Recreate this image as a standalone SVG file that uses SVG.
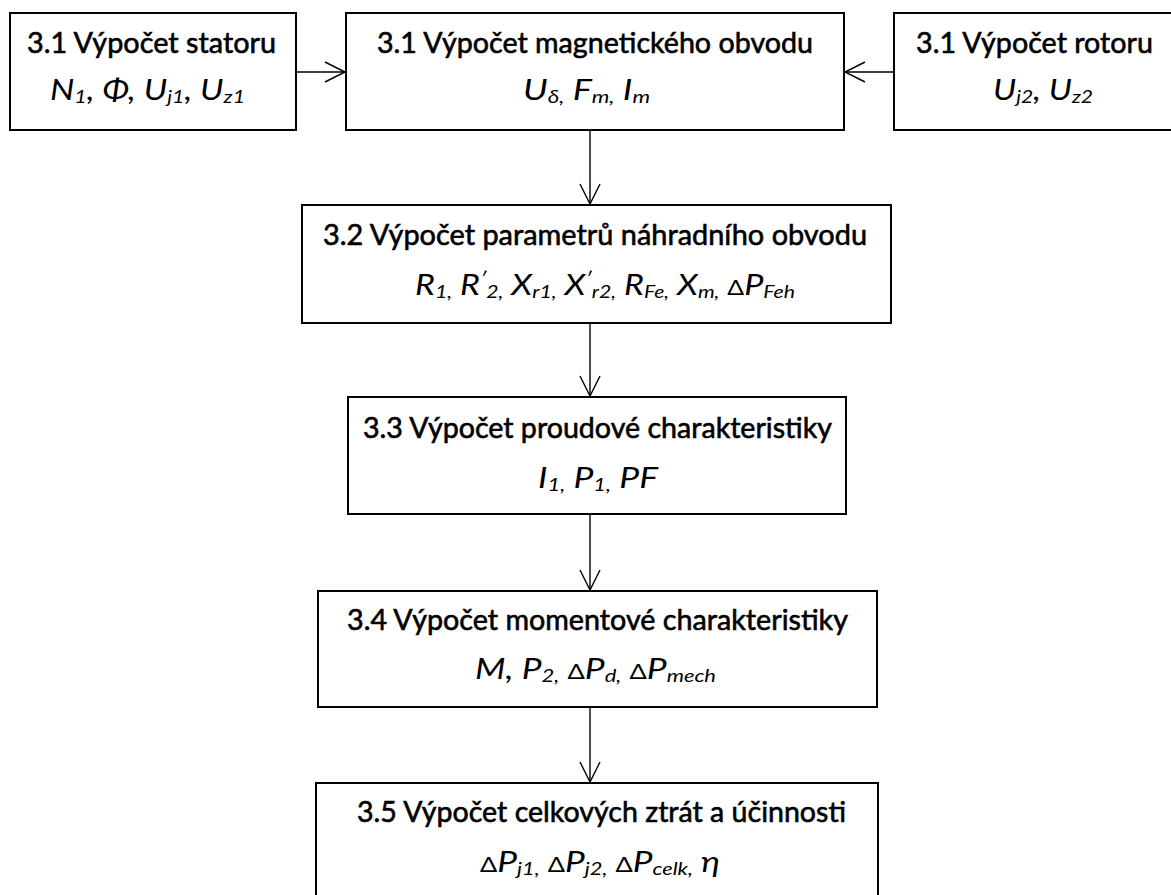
<svg xmlns="http://www.w3.org/2000/svg" width="1171" height="895" viewBox="0 0 1171 895">
<style>
.box{fill:#fff;stroke:#000;stroke-width:2}
.t{font-family:Lato,"Liberation Sans",sans-serif;font-size:29px;fill:#000;stroke:#000;stroke-width:0.6}
.s{font-family:Lato,"Liberation Sans",sans-serif;font-style:italic;font-size:29px;fill:#000}
.sub{font-size:18px}
.d{font-style:normal;font-size:21px}
.c line{stroke:#000;stroke-width:1.4}
</style>
<defs>
<marker id="ah" markerUnits="userSpaceOnUse" markerWidth="24" markerHeight="24" viewBox="-22 -12 24 24" refX="0" refY="0" orient="auto">
<path d="M-20,-10 L0,0 L-20,10" fill="none" stroke="#000" stroke-width="1.4"/>
</marker>
</defs>
<rect width="1171" height="895" fill="#fff"/>
<g class="c" id="connectors">
<line x1="296" y1="72" x2="345" y2="72" marker-end="url(#ah)"/>
<line x1="894" y1="72" x2="845" y2="72" marker-end="url(#ah)"/>
<line x1="590" y1="130" x2="590" y2="204" marker-end="url(#ah)"/>
<line x1="590" y1="323" x2="590" y2="396" marker-end="url(#ah)"/>
<line x1="590" y1="514" x2="590" y2="590" marker-end="url(#ah)"/>
<line x1="590" y1="707" x2="590" y2="782" marker-end="url(#ah)"/>
</g>
<g id="stator">
<rect class="box" x="10" y="13" width="286" height="117"/>
<text class="t" x="27" y="53" textLength="249" lengthAdjust="spacingAndGlyphs">3.1 Výpočet statoru</text>
<text class="s" x="50" y="100" textLength="195" lengthAdjust="spacingAndGlyphs">N<tspan class="sub" dy="3">1</tspan><tspan dy="-3">, Φ, U</tspan><tspan class="sub" dy="3">j1</tspan><tspan dy="-3">, U</tspan><tspan class="sub" dy="3">z1</tspan></text>
</g>
<g id="magnetic">
<rect class="box" x="346" y="13" width="498" height="117"/>
<text class="t" x="377" y="53" textLength="436" lengthAdjust="spacingAndGlyphs">3.1 Výpočet magnetického obvodu</text>
<text class="s" x="523" y="100" textLength="127" lengthAdjust="spacingAndGlyphs">U<tspan class="sub" dy="3">δ,</tspan><tspan dy="-3"> F</tspan><tspan class="sub" dy="3">m,</tspan><tspan dy="-3"> I</tspan><tspan class="sub" dy="3">m</tspan></text>
</g>
<g id="rotor">
<rect class="box" x="894" y="13" width="282" height="117"/>
<text class="t" x="916" y="53" textLength="237" lengthAdjust="spacingAndGlyphs">3.1 Výpočet rotoru</text>
<text class="s" x="993" y="100" textLength="100" lengthAdjust="spacingAndGlyphs">U<tspan class="sub" dy="3">j2</tspan><tspan dy="-3">, U</tspan><tspan class="sub" dy="3">z2</tspan></text>
</g>
<g id="n32">
<rect class="box" x="302" y="205" width="589" height="118"/>
<text class="t" x="323" y="245" textLength="544" lengthAdjust="spacingAndGlyphs">3.2 Výpočet parametrů náhradního obvodu</text>
<text class="s" x="415" y="295" textLength="380" lengthAdjust="spacingAndGlyphs">R<tspan class="sub" dy="3">1,</tspan><tspan dy="-3"> R</tspan><tspan class="sub" dy="-10">′</tspan><tspan class="sub" dy="13">2,</tspan><tspan dy="-3"> X</tspan><tspan class="sub" dy="3">r1,</tspan><tspan dy="-3"> X</tspan><tspan class="sub" dy="-10">′</tspan><tspan class="sub" dy="13">r2,</tspan><tspan dy="-3"> R</tspan><tspan class="sub" dy="3">Fe,</tspan><tspan dy="-3"> X</tspan><tspan class="sub" dy="3">m,</tspan><tspan dy="-3"> </tspan><tspan class="d">Δ</tspan><tspan>P</tspan><tspan class="sub" dy="3">Feh</tspan></text>
</g>
<g id="n33">
<rect class="box" x="348" y="397" width="498" height="117"/>
<text class="t" x="363" y="438" textLength="469" lengthAdjust="spacingAndGlyphs">3.3 Výpočet proudové charakteristiky</text>
<text class="s" x="538" y="488" textLength="120" lengthAdjust="spacingAndGlyphs">I<tspan class="sub" dy="3">1,</tspan><tspan dy="-3"> P</tspan><tspan class="sub" dy="3">1,</tspan><tspan dy="-3"> PF</tspan></text>
</g>
<g id="n34">
<rect class="box" x="318" y="591" width="559" height="116"/>
<text class="t" x="347" y="630" textLength="501" lengthAdjust="spacingAndGlyphs">3.4 Výpočet momentové charakteristiky</text>
<text class="s" x="475" y="679" textLength="241" lengthAdjust="spacingAndGlyphs">M, P<tspan class="sub" dy="3">2,</tspan><tspan dy="-3"> </tspan><tspan class="d">Δ</tspan><tspan>P</tspan><tspan class="sub" dy="3">d,</tspan><tspan dy="-3"> </tspan><tspan class="d">Δ</tspan><tspan>P</tspan><tspan class="sub" dy="3">mech</tspan></text>
</g>
<g id="n35">
<rect class="box" x="316" y="783" width="562" height="130"/>
<text class="t" x="357" y="822" textLength="489" lengthAdjust="spacingAndGlyphs">3.5 Výpočet celkových ztrát a účinnosti</text>
<text class="s" x="480" y="872" textLength="240" lengthAdjust="spacingAndGlyphs"><tspan class="d">Δ</tspan><tspan>P</tspan><tspan class="sub" dy="3">j1,</tspan><tspan dy="-3"> </tspan><tspan class="d">Δ</tspan><tspan>P</tspan><tspan class="sub" dy="3">j2,</tspan><tspan dy="-3"> </tspan><tspan class="d">Δ</tspan><tspan>P</tspan><tspan class="sub" dy="3">celk,</tspan><tspan dy="-3"> η</tspan></text>
</g>
</svg>
